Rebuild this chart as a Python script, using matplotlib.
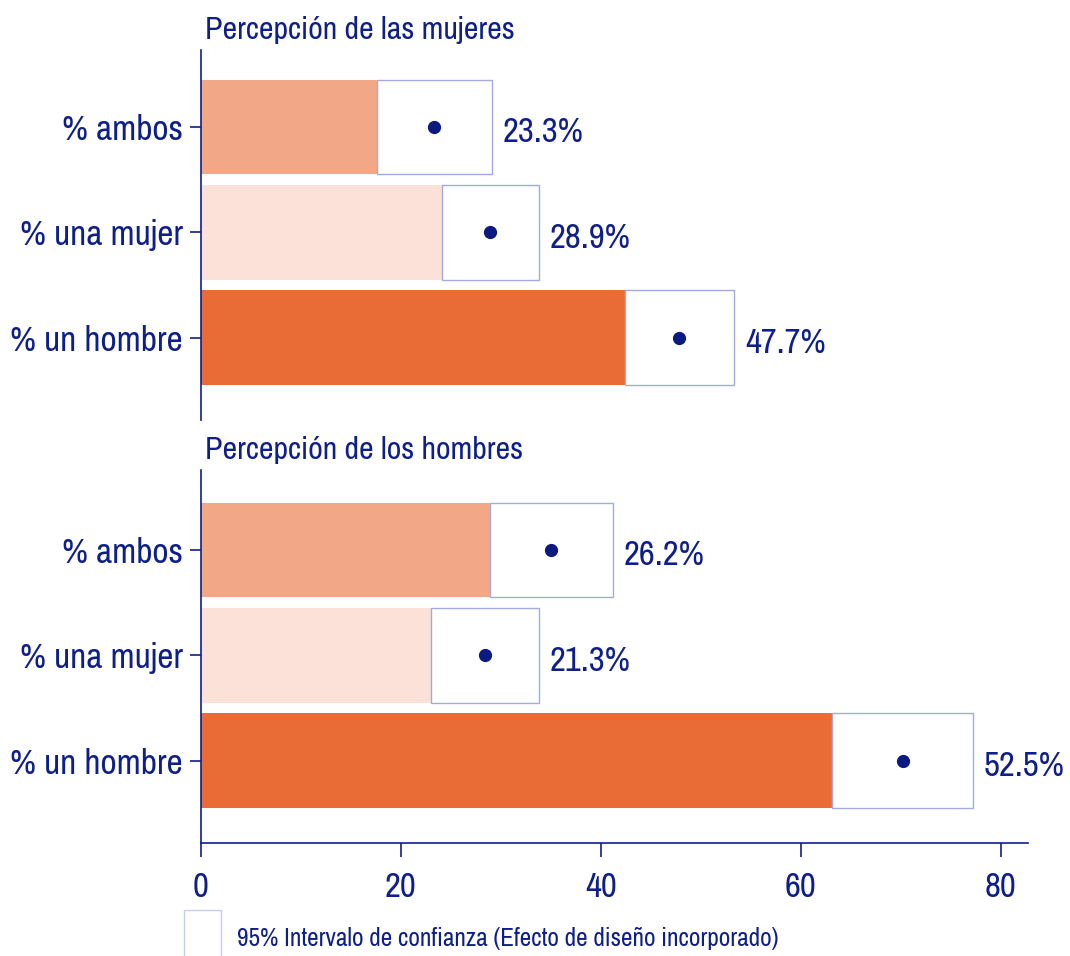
import matplotlib
matplotlib.use("Agg")
import matplotlib.pyplot as plt
from matplotlib import font_manager
from matplotlib.patches import Rectangle

# category labels (bottom to top in each panel)
categories = ["% un hombre", "% una mujer", "% ambos"]
bar_colors = ["#E96C37", "#FBE1D8", "#F2A887"]

# panel 1: Percepción de las mujeres
mujeres_est = [47.8, 28.9, 23.3]
mujeres_lo = [42.4, 24.1, 17.6]
mujeres_hi = [53.3, 33.8, 29.1]
mujeres_lbl = ["47.7%", "28.9%", "23.3%"]

# panel 2: Percepción de los hombres
hombres_est = [70.2, 28.4, 35.0]
hombres_lo = [63.1, 23.0, 28.9]
hombres_hi = [77.2, 33.8, 41.2]
hombres_lbl = ["52.5%", "21.3%", "26.2%"]

xticks = [0, 20, 40, 60, 80]

NAVY = "#0F1F8A"
DOT = "#0A1A80"
BOXEDGE = "#A3AADF"

# narrow sans like the original, if one is installed
installed = set(f.name for f in font_manager.fontManager.ttflist)
wanted = ["Liberation Sans Narrow", "Arial Narrow", "Archivo Narrow",
          "PT Sans Narrow", "Roboto Condensed", "Open Sans Condensed"]
narrow = [n for n in wanted if n in installed]
if narrow:
    plt.rcParams["font.family"] = [narrow[0], "DejaVu Sans"]
    k = 1.0
else:
    plt.rcParams["font.family"] = ["Liberation Sans", "DejaVu Sans"]
    k = 0.82

fig = plt.figure(figsize=(10.70, 9.56), dpi=100)
W, H = 1070, 956
left, right = 201 / W, 1028 / W
ax1 = fig.add_axes([left, 1 - 420 / H, right - left, (420 - 50) / H])
ax2 = fig.add_axes([left, 1 - 843 / H, right - left, (843 - 470) / H])


def panel(ax, est, lo, hi, lbl, title, show_x):
    y = list(range(len(categories)))
    ax.barh(y, est, height=0.9, color=bar_colors, edgecolor="none", zorder=1)
    ax.barh(y, [h - l for l, h in zip(lo, hi)], left=lo, height=0.9,
            color="white", edgecolor=BOXEDGE, linewidth=1.0, zorder=2)
    ax.plot(est, y, "o", color=DOT, markersize=8.5, zorder=3)
    for yi, h, t in zip(y, hi, lbl):
        ax.text(h + 1.1, yi - 0.05, t, va="center", ha="left",
                fontsize=25 * k, color=NAVY)
    ax.set_xlim(0, 82.7)
    ax.set_yticks(y)
    ax.set_yticklabels(categories, fontsize=25.5 * k, color=NAVY)
    ax.tick_params(axis="y", length=8, width=1.2, color=NAVY, pad=5)
    for s in ["top", "right"]:
        ax.spines[s].set_visible(False)
    ax.spines["left"].set_color(NAVY)
    ax.spines["left"].set_linewidth(1.2)
    if show_x:
        ax.spines["bottom"].set_color(NAVY)
        ax.spines["bottom"].set_linewidth(1.2)
        ax.set_xticks(xticks)
        ax.set_xticklabels([str(v) for v in xticks], fontsize=25 * k,
                           color=NAVY)
        ax.tick_params(axis="x", length=10, width=1.2, color=NAVY, pad=10)
    else:
        ax.spines["bottom"].set_visible(False)
        ax.set_xticks([])
    ax.text(0.005, 1.016, title, transform=ax.transAxes, ha="left",
            va="bottom", fontsize=23 * k, color=NAVY)


panel(ax1, mujeres_est, mujeres_lo, mujeres_hi, mujeres_lbl,
      "Percepción de las mujeres", False)
ax1.set_ylim(-0.78, 2.73)
panel(ax2, hombres_est, hombres_lo, hombres_hi, hombres_lbl,
      "Percepción de los hombres", True)
ax2.set_ylim(-0.78, 2.76)

# legend key
fig.patches.append(Rectangle((184 / W, 1 - 960 / H), 37 / W, 50 / H,
                             transform=fig.transFigure, facecolor="white",
                             edgecolor="#C9CCEA", linewidth=1.0))
fig.text(237 / W, 1 - 938 / H,
         "95% Intervalo de confianza (Efecto de diseño incorporado)",
         ha="left", va="center", fontsize=18.2 * k, color=NAVY)

fig.savefig("out.png", dpi=100, facecolor="white")
